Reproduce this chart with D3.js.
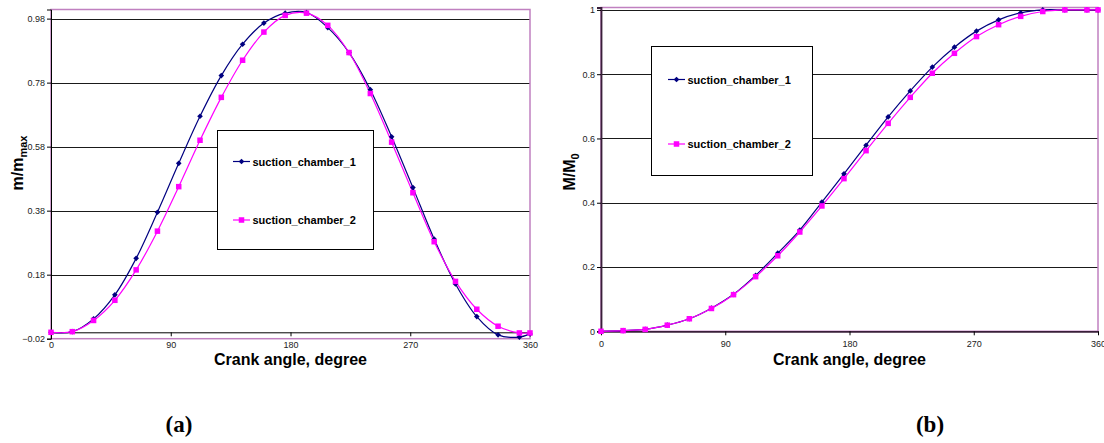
<!DOCTYPE html>
<html><head><meta charset="utf-8">
<script src="https://cdn.jsdelivr.net/npm/d3@7"></script>
<style>body{margin:0;background:#fff}svg{display:block}text{font-family:Arial,"Liberation Sans",sans-serif}text.serif{font-family:"Liberation Serif","Times New Roman",serif}</style>
</head><body>
<svg id="c" width="1104" height="443"></svg>
<script>
const angles = [0,16,32,48,64,80,96,112,128,144,160,176,192,208,224,240,256,272,288,304,320,336,352,360];
const massRatio1 = [0,0.002,0.042,0.117,0.231,0.375,0.528,0.675,0.802,0.900,0.966,0.997,0.999,0.952,0.874,0.758,0.611,0.452,0.291,0.151,0.049,-0.008,-0.015,-0.005];
const massRatio2 = [0,0.002,0.037,0.100,0.195,0.316,0.455,0.600,0.734,0.850,0.938,0.990,0.997,0.959,0.874,0.746,0.594,0.436,0.283,0.159,0.072,0.019,-0.002,-0.002];
const cumRatio1 = [0,0.002,0.006,0.019,0.039,0.072,0.115,0.174,0.243,0.315,0.402,0.490,0.579,0.667,0.748,0.822,0.884,0.934,0.969,0.991,1.0,1.0,1.0,1.0];
const cumRatio2 = [0,0.002,0.006,0.019,0.039,0.071,0.114,0.170,0.235,0.309,0.390,0.475,0.562,0.647,0.728,0.803,0.865,0.917,0.954,0.980,0.995,1.0,1.0,1.0];
const seriesNames = ["suction_chamber_1","suction_chamber_2"];
const xTicks = [0,90,180,270,360];
const yTicksA = [-0.02,0.18,0.38,0.58,0.78,0.98];
const yTicksB = [0,0.2,0.4,0.6,0.8,1];
const xTitle = "Crank angle, degree";
const panelLabels = ["(a)","(b)"];

const svg = d3.select("#c");
const colors = ["#000080","#ff00ff"];

function panel(cfg){
  const g = svg.append("g");
  const x = d3.scaleLinear().domain([0,360]).range([cfg.x0,cfg.x1]);
  const y = d3.scaleLinear().domain(cfg.yDom).range([cfg.yBot,cfg.yTop]);
  g.selectAll(".grid").data(cfg.yTicks.filter(v=>v!==cfg.yDom[0])).enter().append("line")
    .attr("x1",cfg.x0).attr("x2",cfg.x1)
    .attr("y1",d=>Math.round(y(d))+0.5).attr("y2",d=>Math.round(y(d))+0.5)
    .attr("stroke","#1a1a1a").attr("stroke-width",1);
  g.append("rect").attr("x",cfg.x0).attr("y",cfg.yTop).attr("width",cfg.x1-cfg.x0).attr("height",cfg.yBot-cfg.yTop)
    .attr("fill","none").attr("stroke","#c080c0").attr("stroke-width",1.5);
  const ya = d3.axisLeft(y).tickValues(cfg.yTicks).tickSize(4).tickFormat(cfg.yFmt);
  const yag = g.append("g").attr("transform",`translate(${cfg.x0},0)`).call(ya);
  yag.select(".domain").attr("stroke",cfg.axisColor).attr("stroke-width",cfg.axisW);
  yag.selectAll(".tick line").attr("stroke","#000");
  yag.selectAll("text").attr("font-size",9).attr("fill","#222").attr("x",-6);
  const xa = d3.axisBottom(x).tickValues(xTicks).tickSize(4).tickSizeOuter(0);
  const xag = g.append("g").attr("transform",`translate(0,${y(0)})`).call(xa);
  xag.select(".domain").attr("stroke",cfg.axisColor).attr("stroke-width",cfg.axisW);
  xag.selectAll(".tick line").attr("stroke","#000");
  xag.selectAll("text").attr("font-size",9).attr("fill","#222").attr("y",cfg.xLabY);
  const line = d3.line().x((d,i)=>x(angles[i])).y(d=>y(d)).curve(d3.curveCatmullRom.alpha(0.5));
  cfg.series.forEach((s,k)=>{
    g.append("path").attr("d",line(s)).attr("fill","none").attr("stroke",colors[k]).attr("stroke-width",1.2);
  });
  function marker(sel,k,cx,cy){
    if(k===0){
      sel.append("rect").attr("x",-2).attr("y",-2).attr("width",4).attr("height",4)
        .attr("transform",`translate(${cx},${cy}) rotate(45)`).attr("fill",colors[0]);
    } else {
      sel.append("rect").attr("x",cx-2.75).attr("y",cy-2.75).attr("width",5.5).attr("height",5.5).attr("fill",colors[1]);
    }
  }
  cfg.series.forEach((s,k)=>{
    const mg = g.append("g");
    s.forEach((v,i)=>marker(mg,k,x(angles[i]),y(v)));
  });
  const L = cfg.legend;
  g.append("rect").attr("x",L.x+0.5).attr("y",L.y+0.5).attr("width",L.w).attr("height",L.h)
    .attr("fill","#fff").attr("stroke","#000").attr("stroke-width",1);
  seriesNames.forEach((n,k)=>{
    const cy = L.rows[k];
    g.append("line").attr("x1",L.lx).attr("x2",L.lx+17).attr("y1",cy).attr("y2",cy).attr("stroke",colors[k]).attr("stroke-width",1.2);
    marker(g,k,L.lx+8.5,cy);
    g.append("text").attr("x",L.lx+19.5).attr("y",cy+4).attr("font-size",11).attr("font-weight","bold").attr("fill","#000").text(n);
  });
  g.append("text").attr("x",(cfg.x0+cfg.x1)/2).attr("y",365).attr("text-anchor","middle")
    .attr("font-size",16).attr("font-weight","bold").text(xTitle);
  const yt = g.append("text").attr("transform",`translate(${cfg.ytX},${cfg.ytY}) rotate(-90)`).attr("text-anchor","middle")
    .attr("font-size",16).attr("font-weight","bold");
  yt.append("tspan").text(cfg.yTitle[0]);
  yt.append("tspan").attr("font-size",11).attr("dy",4).text(cfg.yTitle[1]);
  g.append("text").attr("class","serif").attr("x",cfg.lblX).attr("y",432).attr("text-anchor","middle")
    .attr("font-size",23).attr("font-weight","bold").text(cfg.lbl);
}

panel({x0:51,x1:530,yDom:[-0.02,1.0085],yBot:338.7,yTop:9.5,yTicks:yTicksA,yFmt:d3.format(".2f"),
  axisColor:"#000",axisW:1,xLabY:9,series:[massRatio1,massRatio2],
  legend:{x:217,y:130,w:156,h:119,lx:233,rows:[161.5,220]},
  yTitle:["m/m","max"],ytX:23,ytY:163,lblX:179,lbl:panelLabels[0]});
panel({x0:601,x1:1098,yDom:[0,1.0075],yBot:331.3,yTop:7.5,yTicks:yTicksB,yFmt:d=>d===0?"0":(d===1?"1":d3.format(".1f")(d)),
  axisColor:"#3a1f3a",axisW:1.8,xLabY:9,series:[cumRatio1,cumRatio2],
  legend:{x:651,y:46,w:161,h:129,lx:668,rows:[79.5,144]},
  yTitle:["M/M","0"],ytX:575,ytY:172,lblX:930,lbl:panelLabels[1]});
</script>
</body></html>
